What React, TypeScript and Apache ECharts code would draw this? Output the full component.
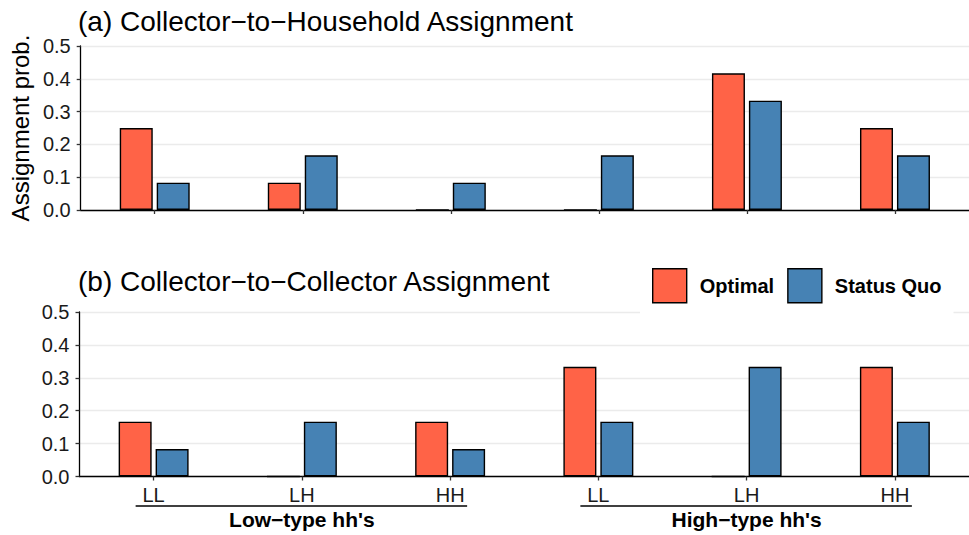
import React, { useEffect, useRef } from "react";
import * as echarts from "echarts";

const pairTypes = ["LL", "LH", "HH", "LL", "LH", "HH"];
const groupLabels = ["Low−type hh's", "High−type hh's"];
const groupRanges = [
  [0, 2],
  [3, 5],
];
const seriesNames = ["Optimal", "Status Quo"];
const panelTitles = [
  "(a) Collector−to−Household Assignment",
  "(b) Collector−to−Collector Assignment",
];
const yAxisTitle = "Assignment prob.";

const hhOptimal = [0.25, 0.0833, 0, 0, 0.4167, 0.25];
const hhStatusQuo = [0.0833, 0.1667, 0.0833, 0.1667, 0.3333, 0.1667];
const ccOptimal = [0.1667, 0, 0.1667, 0.3333, 0, 0.3333];
const ccStatusQuo = [0.0833, 0.1667, 0.0833, 0.1667, 0.3333, 0.1667];

const colors = ["#FF6347", "#4682B4"];
const FONT = "'Liberation Sans', Arial, Helvetica, sans-serif";

export default function App() {
  const ref = useRef<HTMLDivElement>(null);

  useEffect(() => {
    if (!ref.current) return;
    const chart = echarts.init(ref.current, null, { renderer: "svg" });

    const grids = [
      { left: 79.5, top: 46, width: 894.6, height: 164 },
      { left: 79.5, top: 312, width: 894.6, height: 164.5 },
    ];

    const panelData = [
      [hhOptimal, hhStatusQuo],
      [ccOptimal, ccStatusQuo],
    ];

    const series: any[] = [];
    panelData.forEach((pair, gi) => {
      pair.forEach((vals, si) => {
        series.push({
          type: "bar",
          name: seriesNames[si],
          xAxisIndex: gi,
          yAxisIndex: gi,
          data: vals,
          barWidth: 33,
          barGap: "12%",
          silent: true,
          itemStyle: {
            color: colors[si],
            borderColor: "#000",
            borderWidth: 1.4,
          },
        });
      });
    });

    const option: any = {
      animation: false,
      backgroundColor: "#fff",
      textStyle: { fontFamily: FONT },
      title: panelTitles.map((t, i) => ({
        text: t,
        left: 78,
        top: i === 0 ? 7 : 267,
        padding: 0,
        textStyle: {
          fontSize: 28,
          fontWeight: "normal",
          color: "#000",
          fontFamily: FONT,
        },
      })),
      grid: grids,
      xAxis: grids.map((_, i) => ({
        type: "category",
        gridIndex: i,
        data: pairTypes,
        boundaryGap: true,
        axisLine: { show: true, lineStyle: { color: "#000", width: 1.3 } },
        axisTick: {
          show: true,
          alignWithLabel: true,
          length: 4,
          lineStyle: { color: "#333", width: 1.3 },
        },
        axisLabel: {
          show: i === 1,
          fontSize: 20,
          color: "#1a1a1a",
          fontFamily: FONT,
          margin: 8,
        },
        splitLine: { show: false },
      })),
      yAxis: grids.map((_, i) => ({
        type: "value",
        gridIndex: i,
        min: 0,
        max: 0.5,
        interval: 0.1,
        axisLine: { show: true, lineStyle: { color: "#000", width: 1.3 } },
        axisTick: { show: true, length: 4, lineStyle: { color: "#333", width: 1.3 } },
        axisLabel: {
          fontSize: 20,
          color: "#1a1a1a",
          fontFamily: FONT,
          margin: 10,
          formatter: (v: number) => v.toFixed(1),
        },
        splitLine: { show: true, lineStyle: { color: "#EBEBEB", width: 1.3 } },
        name: i === 0 ? yAxisTitle : "",
        nameLocation: "middle",
        nameGap: 45,
        nameTextStyle: { fontSize: 24, color: "#000", fontFamily: FONT },
      })),
      legend: {
        data: seriesNames,
        left: 640,
        top: 258,
        orient: "horizontal",
        itemWidth: 34,
        itemHeight: 34,
        itemGap: 13,
        icon: "rect",
        selectedMode: false,
        backgroundColor: "#fff",
        padding: [10, 12, 11, 12],
        itemStyle: { borderColor: "#000", borderWidth: 1.4 },
        textStyle: {
          fontSize: 20,
          fontWeight: "bold",
          color: "#000",
          fontFamily: FONT,
          padding: [0, 0, 0, 8],
        },
      },
      series,
    };

    chart.setOption(option);

    const px = (idx: number) =>
      chart.convertToPixel({ xAxisIndex: 1 }, idx) as unknown as number;

    const graphics: any[] = [];
    groupRanges.forEach(([a, b], gi) => {
      const x1 = px(a) - 18;
      const x2 = px(b) + 17;
      graphics.push({
        type: "line",
        shape: { x1, y1: 506, x2, y2: 506 },
        style: { stroke: "#000", lineWidth: 1.3 },
        silent: true,
      });
      graphics.push({
        type: "text",
        x: (px(a) + px(b)) / 2,
        y: 519,
        style: {
          text: groupLabels[gi],
          fontSize: 21,
          fontWeight: "bold",
          fontFamily: FONT,
          fill: "#000",
          textAlign: "center",
          textVerticalAlign: "middle",
        },
        silent: true,
      });
    });
    chart.setOption({ graphic: graphics });

    return () => chart.dispose();
  }, []);

  return (
    <div
      ref={ref}
      style={{ position: "fixed", left: 0, top: 0, width: 969, height: 535 }}
    />
  );
}
